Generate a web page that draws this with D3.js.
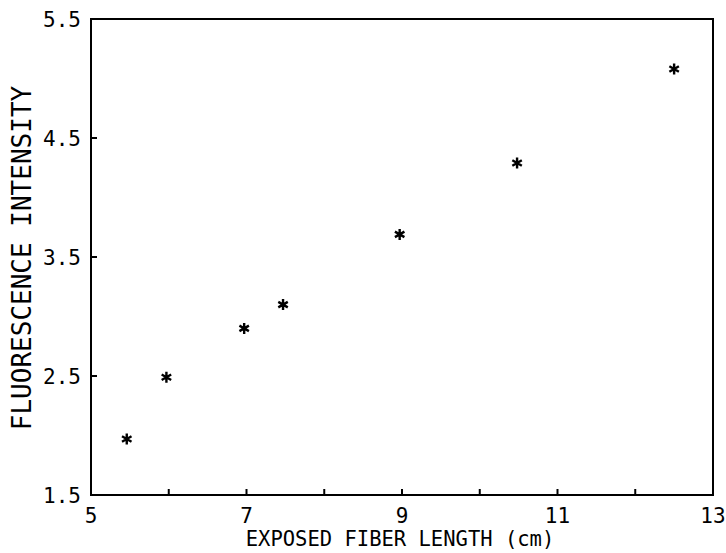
<!DOCTYPE html>
<html>
<head>
<meta charset="utf-8">
<style>
    body { margin: 0; background: #fff; }
    svg { display: block; }
    .tick-label { font-family: 'DejaVu Sans Mono', monospace; font-size: 21px; fill: #000; }
    .axis-title { font-family: 'DejaVu Sans Mono', monospace; fill: #000; }
</style>
</head>
<body>
<svg width="726" height="553"></svg>
<script src="https://d3js.org/d3.v7.min.js"></script>
<script>
    // values
    const fiberLength = [5.46, 5.97, 6.97, 7.47, 8.97, 10.48, 12.5];
    const intensity = [1.97, 2.49, 2.90, 3.10, 3.69, 4.29, 5.08];
    const xTicks = [5, 6, 7, 8, 9, 10, 11, 12, 13];
    const xLabels = [5, 7, 9, 11, 13];
    const yTicks = [1.5, 2.5, 3.5, 4.5, 5.5];

    const svg = d3.select("svg");
    const margin = { top: 19, right: 13, bottom: 58, left: 91 };
    const width = 726, height = 553;

    const x = d3.scaleLinear().domain([5, 13]).range([margin.left, width - margin.right]);
    const y = d3.scaleLinear().domain([1.5, 5.5]).range([height - margin.bottom, margin.top]);

    // frame
    svg.append("rect")
        .attr("x", x(5)).attr("y", y(5.5))
        .attr("width", x(13) - x(5)).attr("height", y(1.5) - y(5.5))
        .attr("fill", "none").attr("stroke", "#000").attr("stroke-width", 2);

    // x ticks (inward)
    svg.append("g").selectAll("line")
        .data(xTicks.filter(d => d > 5 && d < 13))
        .join("line")
        .attr("x1", d => x(d)).attr("x2", d => x(d))
        .attr("y1", y(1.5)).attr("y2", y(1.5) - 6)
        .attr("stroke", "#000").attr("stroke-width", 2);

    svg.append("g").selectAll("text")
        .data(xLabels)
        .join("text")
        .attr("class", "tick-label")
        .attr("x", d => x(d)).attr("y", y(1.5) + 28)
        .attr("text-anchor", "middle")
        .text(d => d);

    // y ticks (inward)
    svg.append("g").selectAll("line")
        .data(yTicks.filter(d => d > 1.5 && d < 5.5))
        .join("line")
        .attr("x1", x(5)).attr("x2", x(5) + 6)
        .attr("y1", d => y(d)).attr("y2", d => y(d))
        .attr("stroke", "#000").attr("stroke-width", 2);

    svg.append("g").selectAll("text")
        .data(yTicks)
        .join("text")
        .attr("class", "tick-label")
        .attr("x", x(5) - 10).attr("y", d => y(d) + 8)
        .attr("text-anchor", "end")
        .text(d => d3.format(".1f")(d));

    // axis titles
    svg.append("text")
        .attr("class", "axis-title")
        .attr("x", 400).attr("y", 546)
        .attr("text-anchor", "middle")
        .style("font-size", "20.5px")
        .text("EXPOSED FIBER LENGTH (cm)");

    svg.append("text")
        .attr("class", "axis-title")
        .attr("transform", "translate(31,258) rotate(-90)")
        .attr("text-anchor", "middle")
        .style("font-size", "26px")
        .text("FLUORESCENCE INTENSITY");

    // asterisk markers
    const r = 5.5;
    const star = d3.range(3).map(i => {
        const a = Math.PI / 2 + i * Math.PI / 3;
        const dx = r * Math.cos(a), dy = r * Math.sin(a);
        return `M${-dx},${-dy}L${dx},${dy}`;
    }).join("");

    svg.append("g").selectAll("path")
        .data(fiberLength.map((d, i) => [d, intensity[i]]))
        .join("path")
        .attr("transform", d => `translate(${x(d[0])},${y(d[1])})`)
        .attr("d", star)
        .attr("stroke", "#000").attr("stroke-width", 2.4)
        .attr("fill", "none");
</script>
</body>
</html>
